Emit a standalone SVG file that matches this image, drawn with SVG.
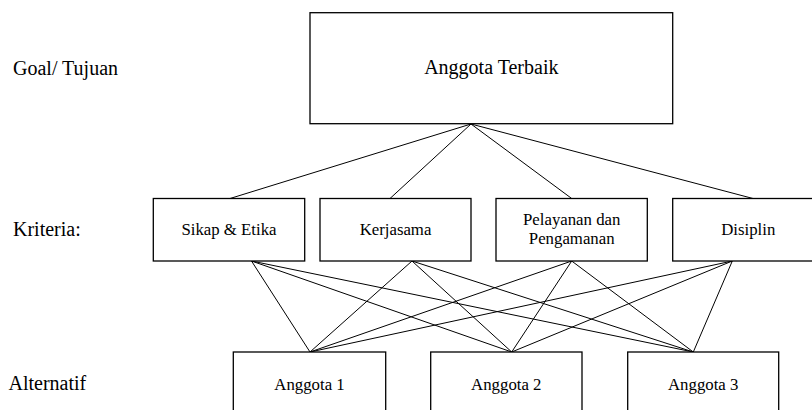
<svg xmlns="http://www.w3.org/2000/svg" width="812" height="410" viewBox="0 0 812 410">
<style>
  .box { fill: #ffffff; stroke: #000000; stroke-width: 1.3; }
  .edge { stroke: #000000; stroke-width: 1; fill: none; }
  text { font-family: "Liberation Serif", Tinos, "Times New Roman", Times, "Noto Serif", "DejaVu Serif", serif; fill: #000000; }
  .lbl { font-size: 20px; }
  .node { font-size: 16.8px; text-anchor: middle; }
  .goal { font-size: 20px; text-anchor: middle; }
</style>
<rect width="812" height="410" fill="#ffffff"/>
<g id="labels">
  <text class="lbl" x="13" y="75">Goal/ Tujuan</text>
  <text class="lbl" x="13" y="235.5">Kriteria:</text>
  <text class="lbl" x="8.5" y="390">Alternatif</text>
</g>
<g id="connectors">
  <line class="edge" x1="471" y1="124" x2="230" y2="198.5"/>
  <line class="edge" x1="471" y1="124" x2="390" y2="198.5"/>
  <line class="edge" x1="471" y1="124" x2="571.7" y2="198.5"/>
  <line class="edge" x1="471" y1="124" x2="753" y2="198.5"/>
  <line class="edge" x1="251.5" y1="261" x2="310" y2="352"/>
  <line class="edge" x1="251.5" y1="261" x2="511.7" y2="352"/>
  <line class="edge" x1="251.5" y1="261" x2="693.3" y2="352"/>
  <line class="edge" x1="412" y1="261" x2="310" y2="352"/>
  <line class="edge" x1="412" y1="261" x2="511.7" y2="352"/>
  <line class="edge" x1="412" y1="261" x2="693.3" y2="352"/>
  <line class="edge" x1="571.7" y1="261" x2="310" y2="352"/>
  <line class="edge" x1="571.7" y1="261" x2="511.7" y2="352"/>
  <line class="edge" x1="571.7" y1="261" x2="693.3" y2="352"/>
  <line class="edge" x1="732.3" y1="261" x2="310" y2="352"/>
  <line class="edge" x1="732.3" y1="261" x2="511.7" y2="352"/>
  <line class="edge" x1="732.3" y1="261" x2="693.3" y2="352"/>
</g>
<g id="goal">
  <rect class="box" x="310" y="12.7" width="362.7" height="111"/>
  <text class="goal" x="491.3" y="74">Anggota Terbaik</text>
</g>
<g id="sikap">
  <rect class="box" x="153.3" y="198.5" width="151.4" height="62.5"/>
  <text class="node" x="229" y="235">Sikap &amp; Etika</text>
</g>
<g id="kerjasama">
  <rect class="box" x="320" y="198.5" width="151" height="62.5"/>
  <text class="node" x="395.5" y="235">Kerjasama</text>
</g>
<g id="pelayanan">
  <rect class="box" x="496" y="198.5" width="151.3" height="62.5"/>
  <text class="node" x="571.7" y="225">Pelayanan dan</text>
  <text class="node" x="571.7" y="243.5">Pengamanan</text>
</g>
<g id="disiplin">
  <rect class="box" x="672.7" y="198.5" width="151.3" height="62.5"/>
  <text class="node" x="748.3" y="235">Disiplin</text>
</g>
<g id="anggota1">
  <rect class="box" x="233.3" y="352" width="152.4" height="70"/>
  <text class="node" x="309.5" y="389.5">Anggota 1</text>
</g>
<g id="anggota2">
  <rect class="box" x="430.7" y="352" width="151.3" height="70"/>
  <text class="node" x="506.3" y="389.5">Anggota 2</text>
</g>
<g id="anggota3">
  <rect class="box" x="627.7" y="352" width="151" height="70"/>
  <text class="node" x="703.2" y="389.5">Anggota 3</text>
</g>
</svg>
